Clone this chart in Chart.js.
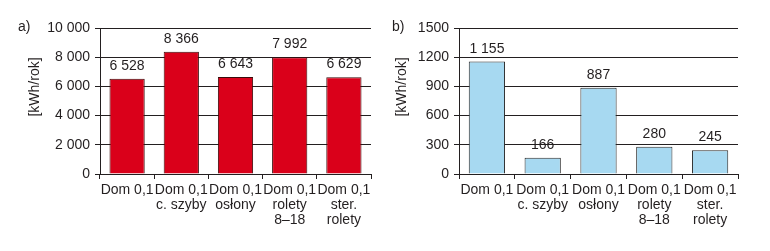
<!DOCTYPE html>
<html>
<head>
<meta charset="utf-8">
<script src="https://cdn.jsdelivr.net/npm/chart.js@4"></script>
<style>
  html, body { margin: 0; padding: 0; background: #fff; }
  #wrap { position: relative; width: 770px; height: 251px; }
  canvas { position: absolute; top: 0; }
</style>
</head>
<body>
<div id="wrap">
  <canvas id="chart-a" width="385" height="251" style="left:0"></canvas>
  <canvas id="chart-b" width="385" height="251" style="left:385px"></canvas>
</div>
<script>
const categories    = [['Dom 0,1'], ['Dom 0,1', 'c. szyby'], ['Dom 0,1', 'osłony'], ['Dom 0,1', 'rolety', '8–18'], ['Dom 0,1', 'ster.', 'rolety']];
const heatingValues = [6528, 8366, 6643, 7992, 6629];
const coolingValues = [1155, 166, 887, 280, 245];
const heatingTicks  = ['0', '2 000', '4 000', '6 000', '8 000', '10 000'];
const coolingTicks  = ['0', '300', '600', '900', '1200', '1500'];
const unitLabel     = '[kWh/rok]';

const FONT = "'Liberation Sans', Arial, sans-serif";
const SIZE = 14;
const INK  = '#231f20';

const fmt = v => String(v).replace(/\B(?=(\d{3})+(?!\d))/g, ' ');

function makeChart(id, cfg) {
  const textPlugin = {
    id: 'texts',
    afterDraw(chart) {
      const ctx = chart.ctx;
      ctx.save();
      ctx.fillStyle = INK;
      ctx.font = SIZE + 'px ' + FONT;
      // value labels above bars
      ctx.textAlign = 'center';
      ctx.textBaseline = 'alphabetic';
      chart.getDatasetMeta(0).data.forEach((bar, i) => {
        ctx.fillText(fmt(cfg.values[i]), bar.x, bar.y - 9);
      });
      // panel letter
      ctx.textAlign = 'left';
      ctx.fillText(cfg.letter, cfg.letterX, 31);
      // y axis title
      ctx.translate(cfg.titleX, 87);
      ctx.rotate(-Math.PI / 2);
      ctx.textAlign = 'center';
      ctx.textBaseline = 'middle';
      ctx.fillText(unitLabel, 0, 0);
      ctx.restore();
    }
  };

  const ctx = document.getElementById(id).getContext('2d');
  return new Chart(ctx, {
    type: 'bar',
    data: {
      labels: categories,
      datasets: [{
        data: cfg.values,
        backgroundColor: cfg.color,
        borderColor: cfg.border,
        borderWidth: 1,
        borderSkipped: 'bottom',
        categoryPercentage: 1,
        barPercentage: 0.65,
      }]
    },
    options: {
      responsive: false,
      animation: false,
      devicePixelRatio: 1,
      layout: { padding: { top: 28, left: 0, right: cfg.padRight, bottom: 0 } },
      plugins: {
        legend:  { display: false },
        tooltip: { enabled: false },
      },
      scales: {
        x: {
          grid:   { drawOnChartArea: false, drawTicks: true, tickLength: 5, color: INK, offset: true },
          border: { display: true, color: INK, width: 1 },
          ticks:  {
            color: INK, padding: 4, maxRotation: 0, minRotation: 0, autoSkip: false,
            font: { family: FONT, size: SIZE, lineHeight: 1.05 },
          },
          afterFit: s => { s.height = 77; },
        },
        y: {
          min: 0,
          max: cfg.max,
          ticks: {
            stepSize: cfg.max / 5,
            color: INK,
            padding: 5,
            font: { family: FONT, size: SIZE },
            callback: (v, i) => cfg.ticks[i],
          },
          grid:   { color: INK, lineWidth: 1, tickLength: 5, drawTicks: true },
          border: { display: true, color: INK, width: 1 },
          afterFit: s => { s.width = cfg.yWidth; },
        },
      },
    },
    plugins: [textPlugin],
  });
}

makeChart('chart-a', {
  values: heatingValues, ticks: heatingTicks, max: 10000,
  color: '#da001a', border: '#3a0a0a',
  letter: 'a)', letterX: 18, titleX: 35,
  yWidth: 100, padRight: 14,
});

makeChart('chart-b', {
  values: coolingValues, ticks: coolingTicks, max: 1500,
  color: '#a7d9f1', border: '#2a2a2a',
  letter: 'b)', letterX: 7, titleX: 17,
  yWidth: 74, padRight: 32,
});
</script>
</body>
</html>
